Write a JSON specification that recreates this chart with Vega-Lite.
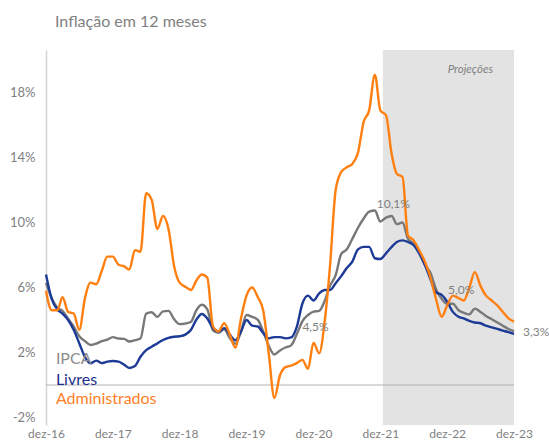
{
  "$schema": "https://vega.github.io/schema/vega-lite/v6.json",
  "width": 468,
  "height": 375,
  "autosize": {"type": "none"},
  "padding": {"left": 46, "top": 50, "right": 35, "bottom": 16},
  "background": "white",
  "config": {"font": "Lato", "view": {"stroke": null}},
  "title": {"text": "Inflação em 12 meses", "anchor": "start", "frame": "group", "dx": 9, "offset": 20, "fontSize": 16, "fontWeight": "normal", "color": "#808080", "font": "Lato"},
  "datasets": {
    "serie": [
      {"mes":"2016-12-01","serie":"IPCA","valor":6.29},
      {"mes":"2017-01-01","serie":"IPCA","valor":5.35},{"mes":"2017-02-01","serie":"IPCA","valor":4.76},{"mes":"2017-03-01","serie":"IPCA","valor":4.57},{"mes":"2017-04-01","serie":"IPCA","valor":4.08},{"mes":"2017-05-01","serie":"IPCA","valor":3.6},{"mes":"2017-06-01","serie":"IPCA","valor":3.0},{"mes":"2017-07-01","serie":"IPCA","valor":2.71},{"mes":"2017-08-01","serie":"IPCA","valor":2.46},{"mes":"2017-09-01","serie":"IPCA","valor":2.54},{"mes":"2017-10-01","serie":"IPCA","valor":2.7},{"mes":"2017-11-01","serie":"IPCA","valor":2.8},{"mes":"2017-12-01","serie":"IPCA","valor":2.95},
      {"mes":"2018-01-01","serie":"IPCA","valor":2.86},{"mes":"2018-02-01","serie":"IPCA","valor":2.84},{"mes":"2018-03-01","serie":"IPCA","valor":2.68},{"mes":"2018-04-01","serie":"IPCA","valor":2.76},{"mes":"2018-05-01","serie":"IPCA","valor":2.86},{"mes":"2018-06-01","serie":"IPCA","valor":4.39},{"mes":"2018-07-01","serie":"IPCA","valor":4.48},{"mes":"2018-08-01","serie":"IPCA","valor":4.19},{"mes":"2018-09-01","serie":"IPCA","valor":4.53},{"mes":"2018-10-01","serie":"IPCA","valor":4.56},{"mes":"2018-11-01","serie":"IPCA","valor":4.05},{"mes":"2018-12-01","serie":"IPCA","valor":3.75},
      {"mes":"2019-01-01","serie":"IPCA","valor":3.78},{"mes":"2019-02-01","serie":"IPCA","valor":3.89},{"mes":"2019-03-01","serie":"IPCA","valor":4.58},{"mes":"2019-04-01","serie":"IPCA","valor":4.94},{"mes":"2019-05-01","serie":"IPCA","valor":4.66},{"mes":"2019-06-01","serie":"IPCA","valor":3.37},{"mes":"2019-07-01","serie":"IPCA","valor":3.22},{"mes":"2019-08-01","serie":"IPCA","valor":3.43},{"mes":"2019-09-01","serie":"IPCA","valor":2.89},{"mes":"2019-10-01","serie":"IPCA","valor":2.54},{"mes":"2019-11-01","serie":"IPCA","valor":3.27},{"mes":"2019-12-01","serie":"IPCA","valor":4.31},
      {"mes":"2020-01-01","serie":"IPCA","valor":4.19},{"mes":"2020-02-01","serie":"IPCA","valor":4.01},{"mes":"2020-03-01","serie":"IPCA","valor":3.3},{"mes":"2020-04-01","serie":"IPCA","valor":2.4},{"mes":"2020-05-01","serie":"IPCA","valor":1.88},{"mes":"2020-06-01","serie":"IPCA","valor":2.13},{"mes":"2020-07-01","serie":"IPCA","valor":2.31},{"mes":"2020-08-01","serie":"IPCA","valor":2.44},{"mes":"2020-09-01","serie":"IPCA","valor":3.14},{"mes":"2020-10-01","serie":"IPCA","valor":3.92},{"mes":"2020-11-01","serie":"IPCA","valor":4.31},{"mes":"2020-12-01","serie":"IPCA","valor":4.52},
      {"mes":"2021-01-01","serie":"IPCA","valor":4.56},{"mes":"2021-02-01","serie":"IPCA","valor":5.2},{"mes":"2021-03-01","serie":"IPCA","valor":6.1},{"mes":"2021-04-01","serie":"IPCA","valor":6.76},{"mes":"2021-05-01","serie":"IPCA","valor":8.06},{"mes":"2021-06-01","serie":"IPCA","valor":8.35},{"mes":"2021-07-01","serie":"IPCA","valor":8.99},{"mes":"2021-08-01","serie":"IPCA","valor":9.68},{"mes":"2021-09-01","serie":"IPCA","valor":10.25},{"mes":"2021-10-01","serie":"IPCA","valor":10.67},{"mes":"2021-11-01","serie":"IPCA","valor":10.74},{"mes":"2021-12-01","serie":"IPCA","valor":10.06},
      {"mes":"2022-01-01","serie":"IPCA","valor":10.3},{"mes":"2022-02-01","serie":"IPCA","valor":10.4},{"mes":"2022-03-01","serie":"IPCA","valor":9.9},{"mes":"2022-04-01","serie":"IPCA","valor":10.0},{"mes":"2022-05-01","serie":"IPCA","valor":9.0},{"mes":"2022-06-01","serie":"IPCA","valor":8.7},{"mes":"2022-07-01","serie":"IPCA","valor":8.2},{"mes":"2022-08-01","serie":"IPCA","valor":7.4},{"mes":"2022-09-01","serie":"IPCA","valor":6.9},{"mes":"2022-10-01","serie":"IPCA","valor":5.9},{"mes":"2022-11-01","serie":"IPCA","valor":5.3},{"mes":"2022-12-01","serie":"IPCA","valor":5.0},
      {"mes":"2023-01-01","serie":"IPCA","valor":5.0},{"mes":"2023-02-01","serie":"IPCA","valor":4.6},{"mes":"2023-03-01","serie":"IPCA","valor":4.45},{"mes":"2023-04-01","serie":"IPCA","valor":4.35},{"mes":"2023-05-01","serie":"IPCA","valor":4.7},{"mes":"2023-06-01","serie":"IPCA","valor":4.5},{"mes":"2023-07-01","serie":"IPCA","valor":4.25},{"mes":"2023-08-01","serie":"IPCA","valor":4.05},{"mes":"2023-09-01","serie":"IPCA","valor":3.85},{"mes":"2023-10-01","serie":"IPCA","valor":3.65},{"mes":"2023-11-01","serie":"IPCA","valor":3.45},{"mes":"2023-12-01","serie":"IPCA","valor":3.3},

      {"mes":"2016-12-01","serie":"Livres","valor":6.8},
      {"mes":"2017-01-01","serie":"Livres","valor":5.3},{"mes":"2017-02-01","serie":"Livres","valor":4.65},{"mes":"2017-03-01","serie":"Livres","valor":4.4},{"mes":"2017-04-01","serie":"Livres","valor":4.0},{"mes":"2017-05-01","serie":"Livres","valor":3.4},{"mes":"2017-06-01","serie":"Livres","valor":2.56},{"mes":"2017-07-01","serie":"Livres","valor":1.74},{"mes":"2017-08-01","serie":"Livres","valor":1.33},{"mes":"2017-09-01","serie":"Livres","valor":1.5},{"mes":"2017-10-01","serie":"Livres","valor":1.35},{"mes":"2017-11-01","serie":"Livres","valor":1.44},{"mes":"2017-12-01","serie":"Livres","valor":1.48},
      {"mes":"2018-01-01","serie":"Livres","valor":1.44},{"mes":"2018-02-01","serie":"Livres","valor":1.25},{"mes":"2018-03-01","serie":"Livres","valor":1.05},{"mes":"2018-04-01","serie":"Livres","valor":1.17},{"mes":"2018-05-01","serie":"Livres","valor":1.74},{"mes":"2018-06-01","serie":"Livres","valor":2.15},{"mes":"2018-07-01","serie":"Livres","valor":2.36},{"mes":"2018-08-01","serie":"Livres","valor":2.56},{"mes":"2018-09-01","serie":"Livres","valor":2.77},{"mes":"2018-10-01","serie":"Livres","valor":2.9},{"mes":"2018-11-01","serie":"Livres","valor":2.97},{"mes":"2018-12-01","serie":"Livres","valor":3.0},
      {"mes":"2019-01-01","serie":"Livres","valor":3.1},{"mes":"2019-02-01","serie":"Livres","valor":3.4},{"mes":"2019-03-01","serie":"Livres","valor":4.0},{"mes":"2019-04-01","serie":"Livres","valor":4.37},{"mes":"2019-05-01","serie":"Livres","valor":4.1},{"mes":"2019-06-01","serie":"Livres","valor":3.5},{"mes":"2019-07-01","serie":"Livres","valor":3.3},{"mes":"2019-08-01","serie":"Livres","valor":3.5},{"mes":"2019-09-01","serie":"Livres","valor":3.1},{"mes":"2019-10-01","serie":"Livres","valor":2.75},{"mes":"2019-11-01","serie":"Livres","valor":3.3},{"mes":"2019-12-01","serie":"Livres","valor":4.0},
      {"mes":"2020-01-01","serie":"Livres","valor":3.65},{"mes":"2020-02-01","serie":"Livres","valor":3.6},{"mes":"2020-03-01","serie":"Livres","valor":3.2},{"mes":"2020-04-01","serie":"Livres","valor":2.87},{"mes":"2020-05-01","serie":"Livres","valor":2.95},{"mes":"2020-06-01","serie":"Livres","valor":2.95},{"mes":"2020-07-01","serie":"Livres","valor":2.87},{"mes":"2020-08-01","serie":"Livres","valor":2.93},{"mes":"2020-09-01","serie":"Livres","valor":3.6},{"mes":"2020-10-01","serie":"Livres","valor":5.0},{"mes":"2020-11-01","serie":"Livres","valor":5.5},{"mes":"2020-12-01","serie":"Livres","valor":5.2},
      {"mes":"2021-01-01","serie":"Livres","valor":5.64},{"mes":"2021-02-01","serie":"Livres","valor":5.85},{"mes":"2021-03-01","serie":"Livres","valor":5.85},{"mes":"2021-04-01","serie":"Livres","valor":6.26},{"mes":"2021-05-01","serie":"Livres","valor":6.7},{"mes":"2021-06-01","serie":"Livres","valor":7.2},{"mes":"2021-07-01","serie":"Livres","valor":7.6},{"mes":"2021-08-01","serie":"Livres","valor":8.35},{"mes":"2021-09-01","serie":"Livres","valor":8.5},{"mes":"2021-10-01","serie":"Livres","valor":8.5},{"mes":"2021-11-01","serie":"Livres","valor":7.8},{"mes":"2021-12-01","serie":"Livres","valor":7.75},
      {"mes":"2022-01-01","serie":"Livres","valor":8.1},{"mes":"2022-02-01","serie":"Livres","valor":8.5},{"mes":"2022-03-01","serie":"Livres","valor":8.8},{"mes":"2022-04-01","serie":"Livres","valor":8.9},{"mes":"2022-05-01","serie":"Livres","valor":8.8},{"mes":"2022-06-01","serie":"Livres","valor":8.6},{"mes":"2022-07-01","serie":"Livres","valor":8.1},{"mes":"2022-08-01","serie":"Livres","valor":7.4},{"mes":"2022-09-01","serie":"Livres","valor":6.5},{"mes":"2022-10-01","serie":"Livres","valor":5.7},{"mes":"2022-11-01","serie":"Livres","valor":5.55},{"mes":"2022-12-01","serie":"Livres","valor":5.13},
      {"mes":"2023-01-01","serie":"Livres","valor":4.5},{"mes":"2023-02-01","serie":"Livres","valor":4.2},{"mes":"2023-03-01","serie":"Livres","valor":4.1},{"mes":"2023-04-01","serie":"Livres","valor":3.95},{"mes":"2023-05-01","serie":"Livres","valor":3.85},{"mes":"2023-06-01","serie":"Livres","valor":3.8},{"mes":"2023-07-01","serie":"Livres","valor":3.65},{"mes":"2023-08-01","serie":"Livres","valor":3.55},{"mes":"2023-09-01","serie":"Livres","valor":3.45},{"mes":"2023-10-01","serie":"Livres","valor":3.35},{"mes":"2023-11-01","serie":"Livres","valor":3.25},{"mes":"2023-12-01","serie":"Livres","valor":3.14},

      {"mes":"2016-12-01","serie":"Administrados","valor":5.8},
      {"mes":"2017-01-01","serie":"Administrados","valor":4.6},{"mes":"2017-02-01","serie":"Administrados","valor":4.6},{"mes":"2017-03-01","serie":"Administrados","valor":5.4},{"mes":"2017-04-01","serie":"Administrados","valor":4.5},{"mes":"2017-05-01","serie":"Administrados","valor":4.4},{"mes":"2017-06-01","serie":"Administrados","valor":3.4},{"mes":"2017-07-01","serie":"Administrados","valor":5.3},{"mes":"2017-08-01","serie":"Administrados","valor":6.3},{"mes":"2017-09-01","serie":"Administrados","valor":6.2},{"mes":"2017-10-01","serie":"Administrados","valor":7.0},{"mes":"2017-11-01","serie":"Administrados","valor":7.9},{"mes":"2017-12-01","serie":"Administrados","valor":7.9},
      {"mes":"2018-01-01","serie":"Administrados","valor":7.4},{"mes":"2018-02-01","serie":"Administrados","valor":7.3},{"mes":"2018-03-01","serie":"Administrados","valor":7.1},{"mes":"2018-04-01","serie":"Administrados","valor":8.3},{"mes":"2018-05-01","serie":"Administrados","valor":8.2},{"mes":"2018-06-01","serie":"Administrados","valor":11.8},{"mes":"2018-07-01","serie":"Administrados","valor":11.4},{"mes":"2018-08-01","serie":"Administrados","valor":9.6},{"mes":"2018-09-01","serie":"Administrados","valor":10.4},{"mes":"2018-10-01","serie":"Administrados","valor":9.6},{"mes":"2018-11-01","serie":"Administrados","valor":7.3},{"mes":"2018-12-01","serie":"Administrados","valor":6.3},
      {"mes":"2019-01-01","serie":"Administrados","valor":6.05},{"mes":"2019-02-01","serie":"Administrados","valor":5.85},{"mes":"2019-03-01","serie":"Administrados","valor":6.4},{"mes":"2019-04-01","serie":"Administrados","valor":6.8},{"mes":"2019-05-01","serie":"Administrados","valor":6.6},{"mes":"2019-06-01","serie":"Administrados","valor":3.6},{"mes":"2019-07-01","serie":"Administrados","valor":3.3},{"mes":"2019-08-01","serie":"Administrados","valor":3.8},{"mes":"2019-09-01","serie":"Administrados","valor":3.1},{"mes":"2019-10-01","serie":"Administrados","valor":2.3},{"mes":"2019-11-01","serie":"Administrados","valor":4.1},{"mes":"2019-12-01","serie":"Administrados","valor":5.5},
      {"mes":"2020-01-01","serie":"Administrados","valor":6.0},{"mes":"2020-02-01","serie":"Administrados","valor":5.4},{"mes":"2020-03-01","serie":"Administrados","valor":4.6},{"mes":"2020-04-01","serie":"Administrados","valor":1.9},{"mes":"2020-05-01","serie":"Administrados","valor":-0.8},{"mes":"2020-06-01","serie":"Administrados","valor":0.6},{"mes":"2020-07-01","serie":"Administrados","valor":1.1},{"mes":"2020-08-01","serie":"Administrados","valor":1.2},{"mes":"2020-09-01","serie":"Administrados","valor":1.35},{"mes":"2020-10-01","serie":"Administrados","valor":1.55},{"mes":"2020-11-01","serie":"Administrados","valor":1.0},{"mes":"2020-12-01","serie":"Administrados","valor":2.6},
      {"mes":"2021-01-01","serie":"Administrados","valor":1.95},{"mes":"2021-02-01","serie":"Administrados","valor":4.0},{"mes":"2021-03-01","serie":"Administrados","valor":7.3},{"mes":"2021-04-01","serie":"Administrados","valor":12.0},{"mes":"2021-05-01","serie":"Administrados","valor":13.1},{"mes":"2021-06-01","serie":"Administrados","valor":13.4},{"mes":"2021-07-01","serie":"Administrados","valor":13.6},{"mes":"2021-08-01","serie":"Administrados","valor":14.3},{"mes":"2021-09-01","serie":"Administrados","valor":16.2},{"mes":"2021-10-01","serie":"Administrados","valor":16.9},{"mes":"2021-11-01","serie":"Administrados","valor":19.1},{"mes":"2021-12-01","serie":"Administrados","valor":16.9},
      {"mes":"2022-01-01","serie":"Administrados","valor":16.6},{"mes":"2022-02-01","serie":"Administrados","valor":14.2},{"mes":"2022-03-01","serie":"Administrados","valor":13.0},{"mes":"2022-04-01","serie":"Administrados","valor":12.8},{"mes":"2022-05-01","serie":"Administrados","valor":9.2},{"mes":"2022-06-01","serie":"Administrados","valor":8.9},{"mes":"2022-07-01","serie":"Administrados","valor":8.3},{"mes":"2022-08-01","serie":"Administrados","valor":7.6},{"mes":"2022-09-01","serie":"Administrados","valor":6.6},{"mes":"2022-10-01","serie":"Administrados","valor":5.3},{"mes":"2022-11-01","serie":"Administrados","valor":4.2},{"mes":"2022-12-01","serie":"Administrados","valor":4.9},
      {"mes":"2023-01-01","serie":"Administrados","valor":5.5},{"mes":"2023-02-01","serie":"Administrados","valor":5.35},{"mes":"2023-03-01","serie":"Administrados","valor":5.2},{"mes":"2023-04-01","serie":"Administrados","valor":6.0},{"mes":"2023-05-01","serie":"Administrados","valor":6.95},{"mes":"2023-06-01","serie":"Administrados","valor":6.1},{"mes":"2023-07-01","serie":"Administrados","valor":5.5},{"mes":"2023-08-01","serie":"Administrados","valor":5.2},{"mes":"2023-09-01","serie":"Administrados","valor":4.9},{"mes":"2023-10-01","serie":"Administrados","valor":4.5},{"mes":"2023-11-01","serie":"Administrados","valor":4.1},{"mes":"2023-12-01","serie":"Administrados","valor":3.9}
    ],
    "projecao": [{"inicio": "2021-12-15", "fim": "2023-12-01", "rotulo": "Projeções"}],
    "legenda": [{"serie": "IPCA"}, {"serie": "Livres"}, {"serie": "Administrados"}]
  },
  "layer": [
    {
      "data": {"name": "projecao"},
      "mark": {"type": "rect", "color": "#e3e3e3"},
      "encoding": {
        "x": {"field": "inicio", "type": "temporal", "scale": {"type": "utc", "domain": [{"year": 2016, "month": 12, "date": 1, "utc": true}, {"year": 2023, "month": 12, "date": 1, "utc": true}]},
          "axis": {"values": [{"year": 2016, "month": 12, "date": 1, "utc": true}, {"year": 2017, "month": 12, "date": 1, "utc": true}, {"year": 2018, "month": 12, "date": 1, "utc": true}, {"year": 2019, "month": 12, "date": 1, "utc": true}, {"year": 2020, "month": 12, "date": 1, "utc": true}, {"year": 2021, "month": 12, "date": 1, "utc": true}, {"year": 2022, "month": 12, "date": 1, "utc": true}, {"year": 2023, "month": 12, "date": 1, "utc": true}],
            "labelExpr": "'dez-' + utcFormat(datum.value, '%y')", "title": null, "domain": false, "ticks": false, "grid": false, "labelFlush": false, "labelAlign": "center", "labelBaseline": "top", "labelPadding": 3, "labelFontSize": 12, "labelColor": "#7f7f7f", "labelFont": "Lato", "labelOverlap": false}},
        "x2": {"field": "fim"}
      }
    },
    {
      "data": {"name": "projecao"},
      "mark": {"type": "text", "fontStyle": "italic", "fontSize": 11.5, "color": "#808080", "align": "right", "baseline": "middle", "dx": -21},
      "encoding": {
        "x": {"field": "fim", "type": "temporal"},
        "y": {"datum": 19.4, "type": "quantitative"},
        "text": {"field": "rotulo"}
      }
    },
    {
      "data": {"values": [{"zero": 0}]},
      "mark": {"type": "rule", "color": "#b3b3b3", "strokeWidth": 1},
      "encoding": {"y": {"field": "zero", "type": "quantitative"}}
    },
    {
      "data": {"name": "serie"},
      "mark": {"type": "line", "interpolate": "monotone", "strokeWidth": 2.4},
      "encoding": {
        "x": {"field": "mes", "type": "temporal"},
        "y": {"field": "valor", "type": "quantitative", "scale": {"domain": [-2.46, 20.615], "nice": false, "zero": false},
          "axis": {"values": [-2, 2, 6, 10, 14, 18], "labelExpr": "datum.value + '%'", "title": null, "grid": false, "ticks": false, "domain": true, "domainColor": "#d4d4d4", "domainWidth": 1.5, "labelPadding": 11, "labelFontSize": 13, "labelColor": "#7f7f7f", "labelFont": "Lato"}},
        "color": {"field": "serie", "type": "nominal", "legend": null, "sort": ["IPCA", "Livres", "Administrados"],
          "scale": {"domain": ["IPCA", "Livres", "Administrados"], "range": ["#787878", "#1c3a96", "#ff7f10"]}},
        "order": {"field": "serie"}
      }
    },
    {
      "data": {"name": "serie"},
      "transform": [{"filter": "datum.serie == 'IPCA' && time(datum.mes) == utc(2020, 11, 1)"}],
      "mark": {"type": "text", "fontSize": 12, "color": "#7f7f7f", "align": "center", "baseline": "middle", "dx": 2, "dy": 15, "text": {"expr": "replace(format(datum.valor, '.1f'), '.', ',') + '%'"}},
      "encoding": {"x": {"field": "mes", "type": "temporal"}, "y": {"field": "valor", "type": "quantitative"}}
    },
    {
      "data": {"name": "serie"},
      "transform": [{"filter": "datum.serie == 'IPCA' && time(datum.mes) == utc(2021, 11, 1)"}],
      "mark": {"type": "text", "fontSize": 12, "color": "#7f7f7f", "align": "center", "baseline": "middle", "dx": 13, "dy": -18, "text": {"expr": "replace(format(datum.valor, '.1f'), '.', ',') + '%'"}},
      "encoding": {"x": {"field": "mes", "type": "temporal"}, "y": {"field": "valor", "type": "quantitative"}}
    },
    {
      "data": {"name": "serie"},
      "transform": [{"filter": "datum.serie == 'IPCA' && time(datum.mes) == utc(2022, 11, 1)"}],
      "mark": {"type": "text", "fontSize": 12, "color": "#7f7f7f", "align": "center", "baseline": "middle", "dx": 14, "dy": -14, "text": {"expr": "replace(format(datum.valor, '.1f'), '.', ',') + '%'"}},
      "encoding": {"x": {"field": "mes", "type": "temporal"}, "y": {"field": "valor", "type": "quantitative"}}
    },
    {
      "data": {"name": "serie"},
      "transform": [{"filter": "datum.serie == 'IPCA' && time(datum.mes) == utc(2023, 11, 1)"}],
      "mark": {"type": "text", "fontSize": 12, "color": "#7f7f7f", "align": "left", "baseline": "middle", "dx": 9, "dy": 1, "text": {"expr": "replace(format(datum.valor, '.1f'), '.', ',') + '%'"}},
      "encoding": {"x": {"field": "mes", "type": "temporal"}, "y": {"field": "valor", "type": "quantitative"}}
    },
    {
      "data": {"name": "legenda"},
      "transform": [{"filter": "datum.serie == 'IPCA'"}],
      "mark": {"type": "text", "fontSize": 16, "color": "#8c8c8c", "align": "left", "baseline": "middle"},
      "encoding": {"x": {"datum": {"year": 2017, "month": 1, "date": 24, "utc": true}, "type": "temporal"}, "y": {"datum": 1.6, "type": "quantitative"}, "text": {"field": "serie"}}
    },
    {
      "data": {"name": "legenda"},
      "transform": [{"filter": "datum.serie == 'Livres'"}],
      "mark": {"type": "text", "fontSize": 16, "color": "#1c2f8c", "align": "left", "baseline": "middle"},
      "encoding": {"x": {"datum": {"year": 2017, "month": 1, "date": 24, "utc": true}, "type": "temporal"}, "y": {"datum": 0.31, "type": "quantitative"}, "text": {"field": "serie"}}
    },
    {
      "data": {"name": "legenda"},
      "transform": [{"filter": "datum.serie == 'Administrados'"}],
      "mark": {"type": "text", "fontSize": 16, "color": "#ff7f27", "align": "left", "baseline": "middle"},
      "encoding": {"x": {"datum": {"year": 2017, "month": 1, "date": 24, "utc": true}, "type": "temporal"}, "y": {"datum": -0.86, "type": "quantitative"}, "text": {"field": "serie"}}
    }
  ]
}
